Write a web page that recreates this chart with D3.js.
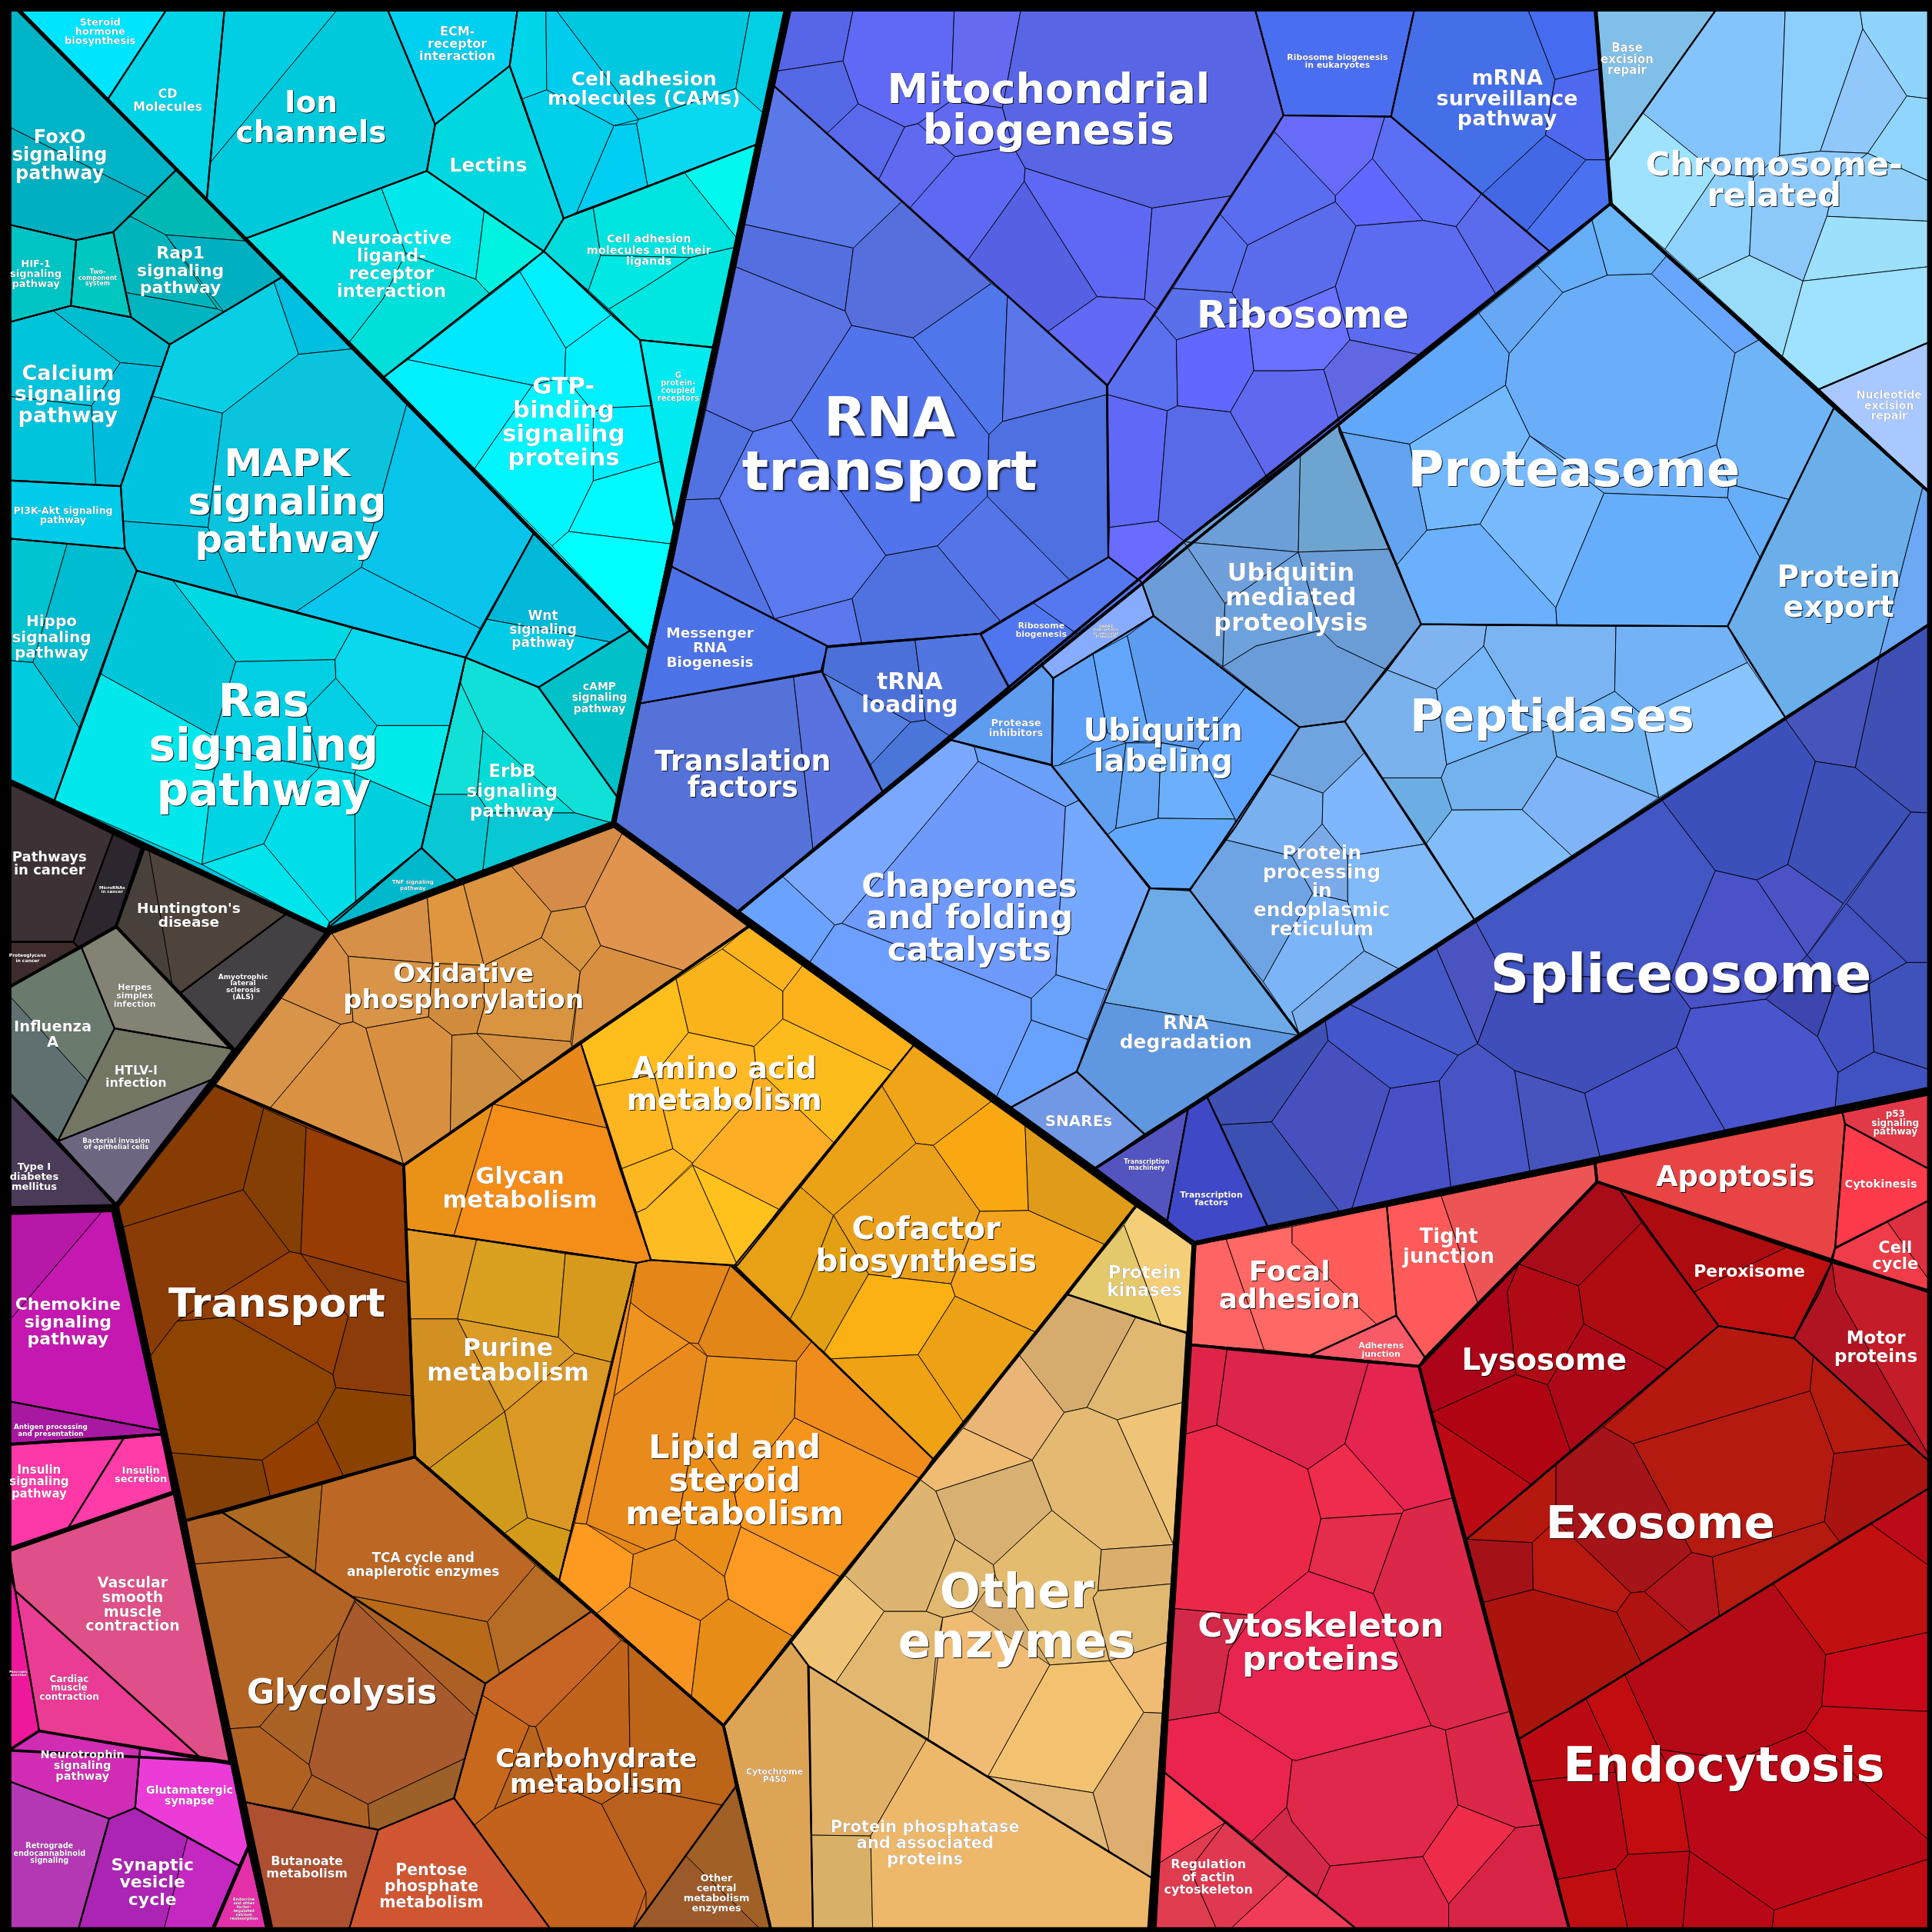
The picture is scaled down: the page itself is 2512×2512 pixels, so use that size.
<!DOCTYPE html>
<html><head><meta charset="utf-8">
<style>html,body{margin:0;background:#000}svg{display:block}text{font-family:"DejaVu Sans";font-weight:bold;fill:#fff;text-anchor:middle}</style>
<script src="https://cdn.jsdelivr.net/npm/d3@7"></script></head><body>
<script>
// Region row: [name, subgroup, panel column, panel row, ...cells]; cell: "colour x,y x,y ..."
const signaling = [
["Steroid hormone biosynthesis",0,0,0,"00e5ff 45,22 405,22 262,240"],
["CD Molecules",0,0,0,"00d4e6 405,22 545,22 502,482 262,240"],
["Ion channels",0,0,0,"00cfe3 545,22 820,22 510,395","00c9dc 820,22 940,22 1056,302 1036,415 598,578 502,482 510,395"],
["ECM-receptor interaction",0,0,0,"00d0f0 940,22 1256,22 1237,160 1056,302"],
["Lectins",0,0,0,"00d8e0 1237,160 1368,530 1320,610 1036,415 1056,302"],
["Neuroactive ligand-receptor interaction",0,0,0,"00dde0 598,578 926,457 985,615 930,725 848,830","00e8ec 926,457 1036,415 1175,513 1155,678 985,615","00f2e0 1175,513 1320,610 1187,712 1155,678","00dfd9 985,615 1155,678 1187,712 932,915 848,830 930,725"],
["GTP-binding signaling proteins",0,0,0,"00f0ff 1320,610 1482,765 1373,845 1262,660","00e8ff 1262,660 1373,845 1371,915 1292,935 990,873","00f0ff 932,915 990,873 1292,935 1152,1137","00f5ff 1292,935 1371,915 1440,1000 1440,1167 1380,1290 1340,1325 1152,1137","00f0ff 1373,845 1482,765 1553,825 1568,905 1581,985 1470,990 1440,1000 1371,915","00ecff 1440,1000 1470,990 1581,985 1603,1120 1440,1167","00faff 1440,1167 1603,1120 1636,1280 1628,1320 1380,1290","00ffff 1380,1290 1628,1320 1575,1575 1340,1325"],
["G protein-coupled receptors",0,0,0,"00eaf0 1553,825 1730,843 1636,1280 1603,1120 1568,905"],
["Cell adhesion molecules and their ligands",0,0,0,"00dcdc 1368,530 1440,505 1458,620 1428,705 1320,610","00e4e0 1440,505 1662,420 1790,580 1785,600 1676,625 1458,620","00e8e4 1428,705 1458,620 1676,625 1568,695 1478,750","00f8ee 1662,420 1838,350 1790,580","00e6e0 1478,750 1568,695 1676,625 1785,600 1730,843 1553,825"],
["Cell adhesion molecules (CAMs)",0,0,0,"00d5ea 1256,22 1325,22 1327,218 1268,240 1237,160","00ccee 1325,22 1348,22 1550,290 1490,305 1327,218","00cfea 1268,240 1327,218 1490,305 1400,515 1368,530","00cdf2 1490,305 1545,300 1572,452 1400,515","00c8e0 1348,22 1821,22 1786,215 1568,285 1550,290","00cfe4 1821,22 1908,22 1853,275 1786,215","08d8f0 1550,290 1568,285 1786,215 1853,275 1838,350 1572,452 1545,300"],
["FoxO signaling pathway",1,0,0,"00b4c8 22,22 40,22 428,412 360,478 22,308","00afc0 22,308 360,478 275,563 185,583 22,545"],
["HIF-1 signaling pathway",1,0,0,"00c4c4 22,545 185,583 172,742 22,782"],
["Two-component system",1,0,0,"00c8c0 185,583 275,563 318,770 172,742"],
["Rap1 signaling pathway",1,0,0,"00b8b4 428,412 598,585 402,570 316,525","00b0c0 402,570 598,585 685,672 543,757","00b4bc 316,525 402,570 528,750 305,710 275,563","00b4c0 305,710 528,750 543,757 412,836 318,770"],
["Calcium signaling pathway",1,0,0,"00c4dc 22,782 130,755 292,880 222,985 22,962","00bcd0 130,755 172,742 318,770 412,836 392,890 292,880","00bcdc 292,880 392,890 293,1180 232,1177 222,985","00c4dc 22,962 222,985 232,1177 22,1166"],
["PI3K-Akt signaling pathway",1,0,0,"00cbe8 22,1166 293,1180 303,1332 22,1307"],
["Hippo signaling pathway",1,0,0,"00c4d0 22,1307 163,1320 80,1608 22,1603","00bcd0 163,1320 303,1332 332,1385 192,1766 80,1608","00ccdf 22,1603 80,1608 192,1766 132,1943 22,1895"],
["MAPK signaling pathway",1,0,0,"08cfe4 412,836 665,685 725,860 540,1003 371,962","00bfe0 665,685 685,672 853,847 725,860","00c4e0 371,962 540,1003 505,1280 300,1265 293,1180","00bfdc 300,1265 505,1280 578,1448 418,1407 332,1385 303,1332","0ac4de 540,1003 725,860 853,847 987,982 905,1280 877,1377 718,1485 578,1448 505,1280","08c4ea 987,982 1295,1295 1165,1525 877,1377 905,1280","08c6ee 877,1377 1165,1525 1130,1596 718,1485"],
["Wnt signaling pathway",1,0,0,"00b8d8 1295,1295 1530,1530 1480,1558 1182,1503","00cce6 1182,1503 1480,1558 1307,1668 1130,1596"],
["cAMP signaling pathway",1,0,0,"00c0c8 1530,1530 1575,1575 1497,1933 1307,1668"],
["Ras signaling pathway",1,0,0,"00c6da 332,1385 418,1407 572,1606 520,1788 245,1636","00e8ec 245,1636 520,1788 530,1818 510,1928 490,2098 132,1943","00d8e4 418,1407 718,1485 855,1525 813,1601 572,1606","0ad8ec 855,1525 1130,1596 1092,1761 915,1761 815,1646 813,1601","00cfe4 572,1606 813,1601 815,1646 740,1723 775,1863 530,1818 520,1788","00cfe4 815,1646 915,1761 860,1878 775,1863 740,1723","00eaea 915,1761 1092,1761 1045,1958 860,1878","00cfe0 860,1878 1045,1958 1023,2058 863,2188","00deea 775,1863 860,1878 863,2188 800,2240 640,2048 685,1953","00d4e4 530,1818 775,1863 685,1953 640,2048 490,2098 510,1928","00e4ec 490,2098 640,2048 800,2238 790,2258"],
["TNF signaling pathway",1,0,0,"00b8cc 1023,2058 1108,2138 795,2258 800,2240"],
["ErbB signaling pathway",1,0,0,"10e0d8 1118,1658 1130,1596 1307,1668 1497,1933 1488,1998 1395,1973 1172,1773","10e0d8 1118,1658 1172,1773 1158,1928 1053,1928","00dcd8 1172,1773 1395,1973 1188,1973 1158,1928","08c8d4 1053,1928 1158,1928 1188,1973 1172,2113 1108,2138 1023,2058","08c8d4 1188,1973 1395,1973 1488,1998 1172,2113"]
];
const information = [
["Mitochondrial biogenesis",0,1,0,"5766e8 348,22 503,22 478,148 315,173","5568e6 315,173 478,148 515,252 440,323 310,208","5a68ec 440,323 515,252 628,308 565,435","5f69f5 503,22 748,22 740,245 660,300 628,308 515,252 478,148","656af0 748,22 910,22 865,262 740,245","5866e6 910,22 1478,22 1547,280 1422,475 1228,505 920,408 890,355 865,262","6069f0 565,435 628,308 660,300 750,380 640,505","5d69f2 750,380 890,355 920,408 918,440 782,630 640,505","6069f0 660,300 740,245 865,262 890,355 750,380","5560e2 782,630 918,440 1095,720 975,805","5f68f5 918,440 920,408 1228,505 1210,727 1095,720","5e6aec 1228,505 1422,475 1240,750 1210,727","6269f4 975,805 1095,720 1210,727 1240,750 1120,935"],
["RNA transport",0,1,0,"5a78e8 310,208 620,490 503,602 240,545","5470e0 240,545 503,602 483,755 218,648","566fdc 620,490 838,688 648,820 499,790 483,755 503,602","5a72e4 218,648 483,755 499,790 352,1020 260,1048 145,995","4f76ea 838,688 877,718 865,1023 832,1055 648,820","5a76e8 877,718 1118,935 1118,958 865,1023","4f70e0 865,1023 1118,958 1122,1352 1028,1408 828,1205 832,1055","5174ec 499,790 648,820 832,1055 828,1205 707,1325 582,1348 352,1020","5272e2 145,995 260,1048 178,1210 95,1213","5272e4 95,1213 178,1210 312,1502 62,1375","5b7af0 178,1210 260,1048 352,1020 582,1348 500,1453 312,1502","5474e8 707,1325 828,1205 1028,1408 860,1508","4f72e0 582,1348 707,1325 860,1508 810,1538 523,1560 500,1453","5c78ee 312,1502 500,1453 523,1560 440,1568"],
["Ribosome",0,1,0,"666cf8 1547,280 1793,283 1763,385 1673,475 1568,365 1525,320","5a6cf0 1525,320 1568,365 1673,475 1673,490 1568,540 1460,595 1393,520","5a70f0 1393,520 1460,595 1422,710 1278,700","5c6ef4 1793,283 1808,283 2028,470 1966,550 1886,535 1763,385","6168ff 1763,385 1886,535 1723,548 1673,490 1673,475","5a6cec 1966,550 2028,470 2193,610 2063,715","5a6cec 1460,595 1568,540 1673,490 1723,548 1673,695 1568,740 1460,770 1422,710","5c6cf0 1723,548 1886,535 1966,550 2063,715 1883,862 1708,825 1673,695","5a70ea 1278,700 1422,710 1460,770 1287,825 1235,765","6a70ff 1460,770 1568,740 1673,695 1708,825 1645,897 1568,900 1475,900","5a70ee 1120,935 1235,765 1287,825 1290,985 1265,997 1120,958","6268ff 1287,825 1460,770 1475,900 1418,1000 1290,985","6068f8 1120,958 1265,997 1243,1265 1125,1280","586ae8 1265,997 1290,985 1418,1000 1508,1160 1315,1320 1243,1265","686cff 1125,1280 1243,1265 1315,1320 1205,1415 1122,1352","5f68ee 1418,1000 1475,900 1568,900 1645,897 1683,1025 1508,1160","5f68e2 1645,897 1708,825 1883,862 1683,1025"],
["Ribosome biogenesis in eukaryotes",0,0,0,"4a6ef0 3046,22 3433,22 3376,283 3115,280"],
["mRNA surveillance pathway",0,2,0,"456fe8 297,22 572,22 638,193 615,328 462,470 240,283","456bf0 572,22 735,22 745,167 638,193","4f68f0 638,193 745,167 762,388 713,388 615,328","4268e6 615,328 713,388 570,560 462,470","4a72f0 713,388 762,388 772,495 625,610 570,560"],
["Messenger RNA Biogenesis",0,0,0,"4c72e8 1630,1375 2008,1568 1993,1628 1549,1708"],
["tRNA loading",0,1,1,"4b70d8 438,3 653,-14 678,180 642,185 428,65","5276e0 653,-14 812,-30 883,103 740,220 678,180","5580e2 428,65 642,185 545,288","4a76da 642,185 678,180 740,220 575,355 545,288"],
["Translation factors",0,1,1,"5572d8 -19,140 358,75 405,492 222,645 -78,430","5a72e0 358,75 428,62 575,355 405,492"],
["Ribosome biogenesis",0,0,0,"5578f0 2691,1352 2772,1414 2613,1538 2508,1464","4f76ee 2508,1464 2613,1538 2451,1674 2380,1540"],
["Base excision repair",1,2,0,"80c0e8 738,22 1030,22 768,390"],
["Chromosome-related",1,2,0,"84c4fc 1030,22 1197,22 1183,378 1120,430 1030,420 852,275","8ccffc 1197,22 1378,22 1385,70 1282,367 1183,378","90d4fc 1378,22 1547,22 1547,240 1492,233 1385,70","90c8fc 1385,70 1492,233 1397,372 1282,367","90d6fc 1492,233 1547,240 1547,440 1397,372","9ee2fe 852,275 1030,420 905,605 775,495 768,390","90d2fe 1030,420 1120,430 1110,620 985,678 905,605","8cc8fa 1120,430 1183,378 1282,367 1397,372 1320,430 1298,525 1240,682 1110,620","8fcff8 1397,372 1547,440 1547,537 1298,525 1320,430","9ce0fb 1298,525 1547,537 1547,647 1240,682","98dcfa 985,678 1110,620 1240,682 1190,865","9ee2ff 1240,682 1547,647 1547,830 1278,945 1190,865"],
["Nucleotide excision repair",1,2,0,"a8c8ff 1278,945 1547,830 1547,1195"],
["Proteasome",2,2,0,"66aef8 595,645 728,535 765,668 657,710","6ab4f8 728,535 772,495 908,622 872,665 765,668","67a6fc 908,622 1133,825 1075,857 872,665","66a8f4 453,760 595,645 657,710 527,858","62a8fa 113,1032 453,760 527,858 518,935 285,1078 115,1048","6aaefa 527,858 657,710 765,668 872,665 1075,857 1030,1080 757,1175 577,1058 518,935","70b4f8 1133,825 1315,990 1205,1212 1060,1175 1030,1080 1075,857","6cb0fb 577,1058 757,1175 1030,1080 1060,1175 1057,1208 757,1197","72b8fc 285,1078 518,935 577,1058 456,1272 327,1287","62a4f0 115,1048 285,1078 327,1287 255,1370","78baff 456,1272 577,1058 757,1197 640,1475","6ab0fc 255,1370 327,1287 456,1272 640,1475 643,1518 313,1515","66aefb 757,1197 1057,1208 1135,1352 1057,1520 643,1518 640,1475","66aef8 1060,1175 1205,1212 1135,1352 1057,1208"],
["Protein export",2,2,0,"6aaeea 1315,990 1530,1185 1425,1595 1198,1743 1088,1568 1057,1520","6ca8f4 1530,1185 1547,1195 1547,1515 1425,1595"],
["Peptidases",2,2,1,"7fb4f0 313,-53 472,-50 465,0 350,105 230,58","7ab4f2 472,-50 786,-48 783,110 630,190 565,165 465,0","74b2f8 786,-48 1057,-48 1105,40 848,165 783,110","7ab2ee 128,183 230,58 350,105 375,288 362,320 218,320","74b6f8 465,0 565,165 630,190 375,288 350,105","70b4f2 783,110 848,165 890,368 642,268 630,190","88c4ff 1105,40 1198,175 890,368 848,165","6caee4 218,320 362,320 388,398 325,480","74b2ee 375,288 630,190 642,268 558,397 388,398 362,320","80b4f8 642,268 890,368 680,510 558,397","82bdfb 388,398 558,397 680,510 443,665 325,480"],
["Ubiquitin mediated proteolysis",2,0,0,"6c9fd8 2873,1315 3156,1105 3151,1340","6ea4d0 3156,1105 3249,1032 3371,1333 3151,1340","70a0dc 2873,1315 3151,1340 2973,1465","6c9cd8 2772,1416 2873,1315 2973,1465 2968,1618 2800,1495","6a9cd6 3151,1340 3371,1333 3449,1515 3366,1626 3244,1568 3206,1530","6da2dc 2973,1465 3151,1340 3206,1530 3048,1568 2968,1618","6a9cd8 3048,1568 3206,1530 3244,1568 3366,1626 3264,1751 3154,1765 2968,1618"],
["SNARE interactions",2,0,0,"87acff 2772,1416 2800,1495 2556,1646 2529,1615"],
["Ubiquitin labeling",2,1,1,"5ea0f8 988,78 1085,20 1120,210 1000,290 985,292","62a6fc 1085,20 1168,-25 1225,230 1165,235 1120,210","5c9cf0 1168,-25 1232,-73 1455,100 1340,250 1225,230","5fa0f0 1000,290 1165,235 1140,443 1120,458 985,292","64a6f4 1165,235 1250,235 1243,418 1140,443","6cb0fc 1250,235 1340,250 1430,420 1243,418","5ea4ff 1340,250 1455,100 1586,197 1430,440 1430,420","62a8fc 1120,458 1140,443 1243,418 1430,420 1430,440 1320,590 1225,588"],
["Protease inhibitors",2,1,1,"5e9cf0 740,228 960,47 988,78 985,288"],
["Chaperones and folding catalysts",2,1,1,"7aa8ff 740,228 797,245 806,280 475,673 458,677 332,560","6a9ffa 797,245 985,290 1050,375 1018,390 806,280","6e9afc 806,280 1018,390 995,798 935,855 475,673","75a8ff 1018,390 1050,375 1222,588 1118,835 995,798","6aa2ff 225,645 332,560 458,677 397,768","6c9fff 458,677 475,673 935,855 935,908 850,1095 397,768","68a2fb 935,855 995,798 1118,835 1072,955 935,908","68a2ff 935,908 1072,955 1045,1033 885,1120 850,1095"],
["RNA degradation",2,1,1,"6caae8 1222,588 1320,593 1590,946 1112,865","5f98e0 1112,865 1590,946 1210,1185 1045,1033"],
["SNAREs",2,1,1,"7098e4 1045,1033 1210,1185 1090,1268 885,1120"],
["Protein processing in endoplasmic reticulum",2,2,1,"6fa4e0 18,197 128,183 175,260 75,357 -58,310","78b0f0 -58,310 75,357 73,432 0,510 -163,470","7eb6ff 175,260 325,480 135,510 73,432 75,357","6ea4e4 -163,470 0,510 50,600 -70,815 -248,593","7aaae8 73,432 135,510 135,620 50,600 0,510","7cb4f8 50,600 135,620 175,740 0,888 18,945 -70,815","80baf8 135,510 325,480 443,665 258,783 175,740 135,620","7cb0ee 175,740 258,783 18,945 0,888"],
["Spliceosome",3,2,1,"4654bc 1197,178 1425,30 1367,295 1270,280","3f50b4 1425,30 1547,-53 1547,405 1502,403 1367,295","3c50bc 898,375 1197,178 1270,280 1203,530 1128,568 1027,545","3d50b8 1270,280 1367,295 1502,403 1338,625 1203,530","3f50b8 1502,403 1547,405 1547,768 1492,768 1345,625","4a52c4 1128,568 1203,530 1338,625 1250,750","4a52c8 1027,545 1128,568 1250,750 1150,857 967,880 916,810","4152c0 1345,625 1492,768 1400,820 1318,825 1250,750","3c46ae 1150,857 1250,750 1318,825 1275,948","3f52bc 1400,820 1492,768 1547,768 1547,1028 1412,985","4150c0 1318,825 1400,820 1412,985 1325,1035 1275,948","4052c0 1412,985 1547,1028 1547,1075 1318,1118 1325,1035","4a54cc 967,880 1150,857 1275,948 1325,1035 1318,1118 1052,1177 933,973","4752c8 933,973 1052,1177 747,1240 710,1085","4854bd 710,1085 747,1240 577,1275 540,1030","4854c4 403,993 450,965 540,1030 577,1275 385,1312 357,1055","4850c8 238,1073 357,1055 385,1312 145,1365","4456cc 140,870 403,993 357,1055 238,1073 87,957 80,905","4256c4 443,665 898,375 1027,545 916,810 513,795","4a54c0 350,733 443,665 513,795 450,965","4558c8 140,870 350,733 450,965 403,993","3f4eba 513,795 916,810 967,880 933,973 710,1085 540,1030 450,965","4850c0 87,957 238,1073 145,1365 115,1372 -50,1155","3f50b4 18,945 80,905 87,957 -50,1155 -173,1162 -206,1095","3c50b4 -173,1162 -50,1155 115,1372 -60,1408"],
["Transcription machinery",3,1,1,"5454c0 1090,1268 1315,1125 1265,1395"],
["Transcription factors",3,1,1,"3f48c6 1315,1125 1362,1095 1508,1408 1330,1450 1265,1395"]
];
const metabolism = [
["Oxidative phosphorylation",0,0,1,"d89048 800,695 805,697 845,753 857,912 827,918 683,855","d79048 805,697 1037,610 1050,770 845,753","e0963e 1037,610 1125,578 1175,775 1050,770","dc9440 1125,578 1242,535 1338,645 1314,708 1175,775","d48c48 1242,535 1490,435 1510,455 1420,632 1338,645","d89440 1338,645 1420,632 1458,727 1408,790 1314,708","e0944e 1510,455 1818,680 1661,788 1458,727 1420,632","d89040 1458,727 1661,788 1388,972 1408,790","d89440 1175,775 1314,708 1408,790 1385,960 1157,940 1175,875","d89548 845,753 1050,770 1040,900 888,927 857,912","d08c3c 1050,770 1175,775 1175,875 1157,940 1097,945 1040,900","d89448 520,1065 683,855 827,918 655,1122","da9242 655,1122 827,918 857,912 888,927 980,1260","d89040 888,927 1040,900 1097,945 1093,1180 980,1260","cf8f40 1097,945 1157,940 1270,1058 1093,1180","d49040 1157,940 1385,960 1388,972 1270,1058"],
["Transport",1,0,0,"873c04 520,2633 640,2690 590,2888 300,2978 283,2928","843f04 640,2690 743,2736 730,3043 703,3038 590,2888","963c04 743,2736 980,2828 988,3113 730,3043","8a3c06 300,2978 590,2888 703,3038 430,3206 365,3291","8c4400 430,3206 560,3196 808,3336 815,3368 770,3451 636,3544 415,3526 365,3291","963f04 560,3196 430,3206 703,3038 730,3043 845,3196 808,3336","8c3c08 730,3043 988,3113 998,3388 815,3368 808,3336 845,3196","8a4200 815,3368 998,3388 1007,3536 833,3581 770,3451","943e00 770,3451 833,3581 656,3633 636,3544","843f04 415,3526 636,3544 656,3633 450,3691"],
["Glycan metabolism",2,0,1,"e8881a 1197,1112 1410,965 1475,1170","ea9218 980,1260 1197,1112 1102,1430 985,1415","f48e18 1197,1112 1475,1170 1580,1490 1545,1497 1102,1430"],
["Amino acid metabolism",2,1,1,"ffbe1c -158,965 73,808 103,938 20,1040 -123,1068","fbb31c 73,808 185,735 332,838 332,905 262,972 103,938","fcb41c 185,735 250,680 380,775 332,838","fdb21c 380,775 650,968 597,1032 332,905 332,838","ffb924 103,938 262,972 267,1025 250,1100 113,1255 65,1220 20,1040","febb1c 262,972 332,905 597,1032 455,1205 267,1025","fdb520 -123,1068 20,1040 65,1220 -63,1270","fdae24 250,1100 267,1025 455,1205 322,1367 113,1260 113,1255","fdb720 -63,1270 65,1220 113,1255 0,1365 -23,1375","ffbc22 -23,1375 0,1365 113,1260 222,1503 12,1490","ffc21c 113,1260 322,1367 222,1503"],
["Cofactor biosynthesis",2,1,1,"f0a418 650,968 838,1105 697,1212 655,1207 573,1068","f9a812 838,1105 920,1162 928,1370 810,1372 697,1212","e09c18 920,1162 1190,1358 1112,1452 928,1370","e8a014 215,1503 375,1313 455,1382 380,1575 350,1633","eba216 375,1313 573,1068 655,1207 455,1382","eaa01a 455,1382 655,1207 697,1212 810,1372 740,1548 540,1525","f4a41c 810,1372 928,1370 1112,1452 1022,1573 945,1665 750,1578 740,1548","e2a012 455,1382 540,1525 515,1568 433,1713 403,1688 350,1633 380,1575","fbb014 540,1525 740,1548 750,1578 660,1720 450,1730 433,1713 515,1568","eca214 750,1578 945,1665 770,1883 660,1720","eea214 450,1730 660,1720 770,1883 697,1973"],
["Purine metabolism",2,0,0,"e09824 985,2983 1157,3008 1110,3201 995,3201","daa020 1157,3008 1372,3043 1355,3246 1110,3201","d89a1c 1372,3043 1545,3065 1483,3306 1395,3284 1355,3246","d29022 995,3201 1110,3201 1225,3426 1043,3563 1007,3536","dc9c28 1110,3201 1355,3246 1395,3284 1225,3426","d09a1c 1043,3563 1225,3426 1280,3684 1225,3721","dc9824 1225,3426 1395,3284 1483,3306 1385,3716 1280,3684","d49a1a 1225,3721 1280,3684 1385,3716 1357,3836"],
["Lipid and steroid metabolism",2,1,2,"e48618 -23,-71 12,-78 205,-65 178,0 127,125 105,123 0,55 -38,25","e38618 205,-65 402,120 365,168 148,155 127,125 178,0","f08c1c 402,120 697,405 665,452 360,305 365,168","ea941c 148,155 365,168 360,305 215,490 115,350","f5951c 360,305 665,452 470,690 230,570 215,490","fc9a22 230,570 470,690 355,835 200,745 190,690","e88c18 200,745 355,835 188,1052 110,980 132,797","f89420 -40,715 0,735 132,797 110,980 -120,780","ea8e1e 70,600 190,690 200,745 132,797 0,735 -40,715 -31,637 0,625","e88a1c -78,252 0,195 105,123 148,155 115,350 70,600 0,625 -145,563","ea8e18 115,350 215,490 230,570 190,690 70,600","ee941e -38,25 0,55 105,123 0,195 -78,252","ff9a20 -173,560 -145,563 -31,637 -40,715 -120,780 -211,700","ec8c1e -23,-71 -38,25 -78,252 -145,563 -173,560"],
["Glycolysis",3,0,2,"ae6024 450,555 540,535 708,643 470,660","b26424 470,660 708,643 862,745 825,825 630,1055 555,1060","b06020 555,1060 630,1055 750,1147 757,1172 708,1258 592,1237","a86226 630,1055 825,825 750,1147","a85a2c 862,752 1155,1030 1128,1132 893,1243 757,1172 750,1147 825,825","ac6026 862,745 1178,950 1155,1030 862,752","ac6024 757,1172 893,1243 897,1300 708,1258","9c6028 893,1243 1128,1132 1102,1228 918,1305 897,1300"],
["TCA cycle and anaplerotic enzymes",3,0,2,"ae6a20 540,535 782,467 765,680","bc6824 782,467 1007,400 1300,663 1183,800 855,738 765,680","b86a18 855,738 1183,800 1212,925 1178,950 862,745","b66c24 1300,663 1435,775 1212,925 1183,800"],
["Butanoate metabolism",3,0,2,"ae5030 592,1237 918,1305 847,1547 658,1547"],
["Pentose phosphate metabolism",3,0,2,"d05632 918,1305 1102,1228 1337,1547 847,1547"],
["Carbohydrate metabolism",3,0,2,"c86424 1435,775 1508,845 1300,1055 1285,1053 1170,978 1178,950","c0641c 1508,845 1525,855 1530,1200 1460,1243 1345,1190 1300,1055","bc6418 1525,855 1756,1052 1786,1200 1751,1245 1530,1200","c8681c 1170,978 1285,1053 1200,1255 1152,1293 1102,1228","b8641c 1285,1053 1300,1055 1345,1190 1200,1255","c2621c 1200,1255 1345,1190 1460,1243 1568,1455 1535,1547 1337,1547 1152,1293","b8601c 1460,1243 1530,1200 1751,1245 1568,1500 1568,1455"],
["Other central metabolism enzymes",3,0,2,"a06026 1786,1200 1871,1547 1846,1547 1664,1368","9c5a2a 1664,1368 1846,1547 1535,1547"],
["Protein kinases",4,1,1,"f4cf78 1190,1358 1330,1452 1320,1668 1250,1648 1160,1405","e4c86c 1160,1405 1250,1648 1022,1573"],
["Other enzymes",4,1,2,"d6ac6e 1020,5 1188,62 1070,280 1015,292 905,152","e0b872 1188,62 1312,100 1302,268 1143,310 1070,280","eab678 905,152 1015,292 937,408 770,330","f0c478 1143,310 1302,268 1280,613","e4ba72 1015,292 1070,280 1143,310 1280,613 1105,625 985,530 937,408","f0bc74 770,330 937,408 703,483 665,455","d8b072 703,483 937,408 985,530 843,662 750,600","ddb470 665,455 703,483 750,600 680,775 578,775 483,688","e0b870 750,600 843,662 848,690 790,775 720,790 680,775","e4bc70 985,530 1105,625 1097,725 1085,742 1125,895 980,905 848,690 843,662","dcae6c 1105,625 1280,613 1275,708 1097,725","e0b870 1097,725 1275,708 1265,850 1125,895 1085,742","f0c476 352,850 483,688 578,775 460,947 395,908","e2b870 578,775 680,775 720,790 705,860 685,1085 460,947","f0bc74 720,790 790,775 980,905 830,1175 685,1085","f0bc74 1125,895 1265,850 1253,1022 1208,1020","f2c270 980,905 1125,895 1208,1020 1085,1215 830,1175","e2b674 830,1175 1085,1215 1125,1360","deae70 1085,1215 1208,1020 1253,1022 1228,1422 1125,1360"],
["Protein phosphatase and associated proteins",4,1,2,"e0b066 395,908 680,1087 545,1320 402,1318","d8b068 402,1318 545,1320 550,1547 405,1547","eeb86a 680,1087 1228,1422 1222,1547 550,1547 545,1320"],
["Cytochrome P450",4,1,2,"dea456 352,850 393,905 405,1547 303,1547 188,1052"]
];
const disease = [
["Pathways in cancer",0,0,1,"3c3236 22,330 275,455 178,718 22,718"],
["MicroRNAs in cancer",0,0,1,"2e262e 275,455 345,490 282,680 190,732 178,718"],
["Proteoglycans in cancer",0,0,1,"3e2c2c 22,718 178,718 190,732 22,828"],
["Huntington's disease",1,0,1,"48403a 350,490 362,497 418,820 282,680","4e443c 362,497 695,650 438,842 418,820"],
["Amyotrophic lateral sclerosis",1,0,1,"444044 695,650 795,695 568,985 438,842"],
["Herpes simplex infection",2,0,1,"848274 198,732 282,682 568,978 278,928"],
["HTLV-I infection",2,0,1,"747664 278,928 568,978 515,1052 140,1202"],
["Influenza A",2,0,1,"6a7a6c 22,828 198,732 278,928 213,1057 22,848","607070 22,848 213,1057 140,1202 22,1085"],
["Bacterial invasion of epithelial cells",2,0,1,"6c6680 140,1202 515,1052 282,1355"],
["Type I diabetes mellitus",3,0,1,"4a3c58 22,1085 140,1202 282,1360 22,1365"]
];
const immuneNeuro = [
["Chemokine signaling pathway",0,0,0,"b818a8 22,2943 250,2938 22,3206","c418b0 250,2938 275,2936 390,3471 22,3401 22,3206"],
["Antigen processing and presentation",0,0,0,"a818a0 22,3401 390,3471 395,3481 22,3505"],
["Insulin signaling pathway",1,0,2,"ff38a8 22,370 300,355 165,573 22,622"],
["Insulin secretion",1,0,2,"ff3ca8 300,355 395,345 420,485 165,573"],
["Vascular smooth muscle contraction",2,0,2,"e05088 22,628 423,488 558,1140 483,1127 37,725"],
["Cardiac muscle contraction",2,0,2,"ea3c94 37,725 483,1127 95,1065"],
["Pancreatic secretion",2,0,2,"ee189c 22,680 37,725 95,1065 22,1112"],
["Neurotrophin signaling pathway",3,0,2,"d02cb4 22,1112 95,1065 340,1107 328,1252 265,1278 22,1187"],
["Glutamatergic synapse",3,0,2,"ec3cd8 340,1107 562,1145 603,1345 580,1392 328,1252"],
["Retrograde endocannabinoid signaling",3,0,2,"b438b4 22,1187 265,1278 190,1547 22,1547"],
["Synaptic vesicle cycle",3,0,2,"ac24b4 265,1278 328,1252 455,1325 398,1547 190,1547","c428c0 455,1325 580,1392 515,1547 398,1547"],
["Endocrine and other factor-regulated calcium reabsorption",4,0,2,"e430a8 603,1348 650,1547 518,1547"]
];
const cellular = [
["Apoptosis",0,2,1,"e84444 735,1252 1335,1130 1342,1160 1318,1460 1308,1490 740,1300"],
["p53 signaling pathway",0,2,1,"e23848 1335,1130 1547,1085 1547,1270 1342,1160"],
["Cytokinesis",0,2,1,"ff3a4a 1342,1160 1547,1270 1547,1345 1318,1460"],
["Cell cycle",0,2,1,"f03c48 1318,1462 1445,1398 1547,1540 1547,1565 1310,1495","dc3040 1445,1398 1547,1345 1547,1540"],
["Peroxisome",1,2,2,"ac0c10 795,-248 1198,-108 975,0","bc1010 1198,-108 1310,-73 1280,0 1218,112 1035,82 975,0"],
["Lysosome",1,2,2,"a80c18 740,-268 795,-248 848,-168 695,-15 550,-68","b00a14 550,-68 695,-15 708,77 620,225 543,200 522,0","ae0c10 848,-168 1035,82 910,187 708,77 695,-15","ac0818 708,77 910,187 675,385 620,225","ac0418 550,-68 522,0 543,200 340,292 308,180","b00412 340,292 543,200 620,225 675,385 582,468 340,307","bc0a14 340,307 582,468 423,600"],
["Motor proteins",1,2,2,"c41c28 1310,-73 1547,0 1547,400 1320,0","b01422 1310,-73 1320,0 1547,400 1547,412 1218,112 1280,0"],
["Exosome",1,2,2,"b4180e 755,327 1035,82 1218,112 1265,155 1257,240 828,368","b41a0e 1265,155 1497,370 1315,392 1257,240","b41a10 828,368 1257,240 1315,392 1292,557 1020,643 970,632","aa1410 1315,392 1497,370 1547,412 1547,475 1328,605 1292,557","a41418 640,420 755,327 828,368 970,632 855,727 822,730 640,555","b4180e 423,600 640,420 640,555 583,608","a41218 423,600 583,608 585,722 465,753","b81810 583,608 640,555 822,730 788,777 585,722","aa140c 465,753 585,722 788,777 848,902 550,1085","b01210 788,777 822,730 855,727 967,828 848,902","b0141a 855,727 970,632 1020,643 1037,785 967,828","b41a10 1020,643 1292,557 1328,605 1037,785"],
["Endocytosis",1,2,2,"c0100f 1168,708 1405,563 1547,665 1547,825 1295,880","bc0a18 1405,563 1547,475 1547,665","c80818 1295,880 1547,825 1547,1018 1285,1005","b40a16 808,930 1168,708 1295,880 1285,1005 1245,1065 1080,1135 890,1110","c40a14 1285,1005 1547,1018 1547,1332 1245,1065","bc0a14 550,1085 714,988 780,1130 785,1165 580,1187","c20c10 714,988 808,930 890,1110 940,1200 965,1357 815,1365 785,1165 780,1130","b80816 580,1187 785,1165 815,1365 785,1400 645,1425","ba0818 890,1110 1080,1135 1245,1065 1547,1332 1547,1375 1170,1500 965,1357 940,1200","c00e10 645,1425 785,1400 815,1547 673,1547","b80814 785,1400 815,1365 965,1357 948,1547 815,1547","b80818 965,1357 1170,1500 1165,1547 948,1547","c00c10 1170,1500 1547,1375 1547,1547 1165,1547"],
["Focal adhesion",3,0,0,"ff6464 2898,3018 2976,3008 3068,3276 2890,3264","ff6864 2976,3008 3136,2977 3136,3018 3341,3214 3181,3289 3068,3276","ff5c5a 3136,2977 3366,2928 3389,3193 3341,3214 3136,3018"],
["Tight junction",3,0,0,"ff5a5a 3366,2928 3498,2903 3586,3161 3458,3294 3389,3193","ec5456 3498,2903 3871,2823 3876,2870 3586,3161"],
["Adherens junction",3,2,2,"f85a68 45,153 253,57 322,158 308,180"],
["Cytoskeleton proteins",2,2,2,"e02448 -246,128 -158,140 -183,323 -260,345","dc244c -158,140 185,172 128,368 38,430 0,410 -183,323","e62450 185,172 308,180 388,500 272,530 128,368","ec2848 -260,345 -183,323 0,410 38,430 70,550 40,678 0,710 -93,785 -287,768","ee2c4c 38,430 128,368 272,530 267,537 70,550","e42c4c 70,550 267,537 197,732 40,678","dc2848 272,530 388,500 527,1018 372,1063 338,1052 197,732 267,537","d42848 -287,768 -93,785 -153,870 -178,1020 -303,1040","e82450 40,678 197,732 338,1052 10,1137 0,1135 -178,1020 -153,870 -93,785 0,710","ea244c -303,1040 -178,1020 0,1135 -13,1250 -98,1333 -313,1163","e0284a 10,1137 338,1052 372,1063 403,1245 317,1370 92,1393 0,1285 -13,1250 0,1135","dc2848 372,1063 527,1018 603,1293 543,1300 403,1245","ee2c4a 403,1245 543,1300 380,1485 317,1370","d82444 543,1300 603,1293 673,1547 380,1547 380,1485","de2448 92,1393 317,1370 380,1485 380,1547 158,1547 60,1465","d42848 -13,1250 0,1285 92,1393 60,1465 0,1420 -98,1333"],
["Regulation of actin cytoskeleton",2,2,2,"fa3c54 -313,1163 -163,1288 -326,1388","e03850 -163,1288 -10,1415 -151,1547 -183,1547 -248,1400","e03c50 -326,1388 -163,1288 -248,1400 -183,1547 -335,1547","f03c58 -10,1415 158,1547 -151,1547"]
];
const groups = [signaling, information, metabolism, disease, immuneNeuro, cellular];

// Label rows: text ("|" = new line), centre x, first baseline y, font size (px), line step.
const labels = [
["Steroid|hormone|biosynthesis",243,62,13,22.5],["CD|Molecules",407,238,16,30],["Ion|channels",755,273,39,72],["ECM-|receptor|interaction",1110,85,16,30],["Lectins",1185,417,25,0],["Neuroactive|ligand-|receptor|interaction",950,592,23,43],["GTP-|binding|signaling|proteins",1368,955,31,58],["FoxO|signaling|pathway",145,347,24,44],["HIF-1|signaling|pathway",87,648,13,24],["Two-|component|system",237,665,8,14],["Rap1|signaling|pathway",438,628,22,42],["Calcium|signaling|pathway",165,922,27,51],["PI3K-Akt signaling|pathway",153,1247,12.5,23],["Hippo|signaling|pathway",125,1520,20,38],["MAPK|signaling|pathway",697,1155,50,93],["Wnt|signaling|pathway",1318,1505,17,32.5],["Cell adhesion|molecules (CAMs)",1563,208,25,45],["Cell adhesion|molecules and their|ligands",1575,588,14.5,27.5],["G|protein-|coupled|receptors",1646,917,10,18.5],["cAMP|signaling|pathway",1455,1674,14,27],["Ras|signaling|pathway",640,1738,58,108],["ErbB|signaling|pathway",1243,1885,23,49],["TNF signaling|pathway",1002,2145,7,14],
["Mitochondrial|biogenesis",2545,250,54,100],["RNA|transport",2159,1058,72,132],["Ribosome",3162,795,50,0],["Ribosome biogenesis|in eukaryotes",3246,145,11,20],["mRNA|surveillance|pathway",3658,205,27,50],["Base|excision|repair",3949,125,15,27.5],["Chromosome-|related",4306,425,43,75],["Nucleotide|excision|repair",4585,967,14,25.5],["Proteasome",3820,1180,64,0],["Protein|export",4463,1425,39,72],["Ubiquitin|mediated|proteolysis",3133,1410,32,60],["Peptidases",3767,1775,59.5,0],["Spliceosome",4080,2408,70,0],["Protein|processing|in|endoplasmic|reticulum",3208,2085,25,46],["Ubiquitin|labeling",2823,1798,40,75],["Protease|inhibitors",2466,1763,13,23],["Chaperones|and folding|catalysts",2353,2176,42,78],["RNA|degradation",2878,2498,25,46],["SNAREs",2618,2733,20,0],["Transcription|machinery",2783,2825,8,14],["Transcription|factors",2940,2906,11,20],["Messenger|RNA|Biogenesis",1723,1548,18.5,35],["tRNA|loading",2208,1673,30,55],["Translation|factors",1803,1870,36.5,63],["Ribosome|biogenesis",2527,1526,11,20],["SNARE|interactions|in vesicular|transport",2684,1523,5,8.4],
["Pathways|in cancer",120,2090,18,33],["MicroRNAs|in cancer",272,2157,5.5,10],["Proteoglycans|in cancer",67,2323,6,12],["Huntington's|disease",458,2215,18.5,35],["Amyotrophic|lateral|sclerosis|(ALS)",590,2376,9,16],["Herpes|simplex|infection",327,2402,11,20.5],["Influenza|A",128,2503,19.5,37],["HTLV-I|infection",330,2608,16,30],["Bacterial invasion|of epithelial cells",282,2774,8.7,14],["Type I|diabetes|mellitus",83,2840,13,24],
["Oxidative|phosphorylation",1125,2383,34,64],["Transport",672,3196,52,0],["Glycan|metabolism",1262,2873,30.5,57],["Amino acid|metabolism",1758,2618,38.5,75],["Cofactor|biosynthesis",2248,3008,40.5,77],["Purine|metabolism",1233,3291,32,60],["Lipid and|steroid|metabolism",1783,3540,43,80],["Protein|kinases",2778,3103,23,43],["Other|enzymes",2468,3902,62.5,120],["Cytochrome|P450",1880,4306,11,20],["Protein phosphatase|and associated|proteins",2245,4447,21,39],["Other|central|metabolism|enzymes",1739,4566,13,24],["Carbohydrate|metabolism",1447,4289,34,63],["Glycolysis",830,4135,44,0],["TCA cycle and|anaplerotic enzymes",1027,3792,17,32],["Butanoate|metabolism",745,4526,16,30],["Pentose|phosphate|metabolism",1047,4551,20.5,39],
["Chemokine|signaling|pathway",165,3179,22,42],["Antigen processing|and presentation",123,3468,8.8,17],["Insulin|signaling|pathway",95,3576,15,29],["Insulin|secretion",342,3576,13,22],["Vascular|smooth|muscle|contraction",322,3853,19,35],["Cardiac|muscle|contraction",168,4082,12,21.5],["Pancreatic|secretion",45,4060,4,7],["Neurotrophin|signaling|pathway",200,4267,14.5,26.5],["Glutamatergic|synapse",460,4354,14,25],["Retrograde|endocannabinoid|signaling",120,4486,9.7,18],["Synaptic|vesicle|cycle",370,4539,22,42],["Endocrine|and other|factor-|regulated|calcium|reabsorption",592,4612,5,9.6],
["Apoptosis",4212,2878,37,0],["p53|signaling|pathway",4600,2710,12,22],["Cytokinesis",4565,2883,14.5,0],["Cell|cycle",4600,3041,21,39],["Peroxisome",4246,3098,22,0],["Tight|junction",3516,3016,26,49],["Focal|adhesion",3130,3108,36,68],["Adherens|junction",3352,3273,11,20],["Lysosome",3748,3324,39,0],["Motor|proteins",4553,3261,23,45],["Exosome",4030,3733,59.5,0],["Endocytosis",4184,4324,62,0],["Cytoskeleton|proteins",3206,3972,43.5,80],["Regulation|of actin|cytoskeleton",2933,4535,16,30]
];

const PANEL = 1568, EXTENT = 4689.07, FRAME = [22, 4683];
const scale = d3.scaleLinear().domain([0, EXTENT]).range([0, 2512]);

const svg = d3.select("body").append("svg").attr("width", 2512).attr("height", 2512);
svg.append("rect").attr("width", 2512).attr("height", 2512).attr("fill", "#000");
svg.append("clipPath").attr("id", "frame").append("rect")
  .attr("x", scale(FRAME[0])).attr("y", scale(FRAME[0]))
  .attr("width", scale(FRAME[1]) - scale(FRAME[0])).attr("height", scale(FRAME[1]) - scale(FRAME[0]));
const plot = svg.append("g").attr("clip-path", "url(#frame)");

const path = pts => "M" + pts.map(p => scale(p[0]) + "," + scale(p[1])).join("L") + "Z";

// Parse the rows into regions of cells
const tree = groups.map((rows, g) => rows.map(r => {
  const [name, sub, col, row, ...cells] = r;
  const parsed = cells.map(s => {
    const [c, ...xy] = s.split(" ");
    return { color: "#" + c, pts: xy.map(t => { const [x, y] = t.split(",").map(Number); return [x + col * PANEL, y + row * PANEL]; }) };
  });
  return { name, g, sub, cells: parsed, pts: parsed.flatMap(c => c.pts) };
}));
const regions = tree.flat();
const subgroups = Array.from(d3.group(regions, d => d.g + "-" + d.sub).values());

// Underlay so that tiny reading gaps between cells do not show
plot.append("g").selectAll("path").data(regions).join("path")
  .attr("d", d => path(d3.polygonHull(d.pts)))
  .attr("fill", d => d.cells[0].color);
plot.append("g").selectAll("path").data(regions.flatMap(d => d.cells)).join("path")
  .attr("d", d => path(d.pts)).attr("fill", d => d.color)
  .attr("stroke", "#000").attr("stroke-width", 0.9).attr("stroke-linejoin", "round");
plot.append("g").selectAll("path").data(regions).join("path")
  .attr("d", d => path(d3.polygonHull(d.pts))).attr("fill", "none")
  .attr("stroke", "#000").attr("stroke-width", 2.1).attr("stroke-linejoin", "round");
plot.append("g").selectAll("path").data(subgroups).join("path")
  .attr("d", d => path(d3.polygonHull(d.flatMap(r => r.pts)))).attr("fill", "none")
  .attr("stroke", "#000").attr("stroke-width", 3.6).attr("stroke-linejoin", "round");
plot.append("g").selectAll("path").data(tree).join("path")
  .attr("d", d => path(d3.polygonHull(d.flatMap(r => r.pts)))).attr("fill", "none")
  .attr("stroke", "#000").attr("stroke-width", 6.2).attr("stroke-linejoin", "round");

// Labels with the dark offset shadow of the original
const text = svg.append("g").selectAll("text").data(labels).join("text")
  .attr("font-size", d => d[3])
  .style("filter", d => { const o = Math.max(0.6, d[3] * 0.03); return `drop-shadow(${o}px ${o}px ${Math.min(o * 0.4, 0.8)}px rgba(0,0,0,.85))`; });
text.selectAll("tspan").data(d => d[0].split("|").map((t, i) => ({ t, x: d[1], y: d[2] + i * d[4] }))).join("tspan")
  .attr("x", d => scale(d.x)).attr("y", d => scale(d.y)).text(d => d.t);
</script></body></html>
